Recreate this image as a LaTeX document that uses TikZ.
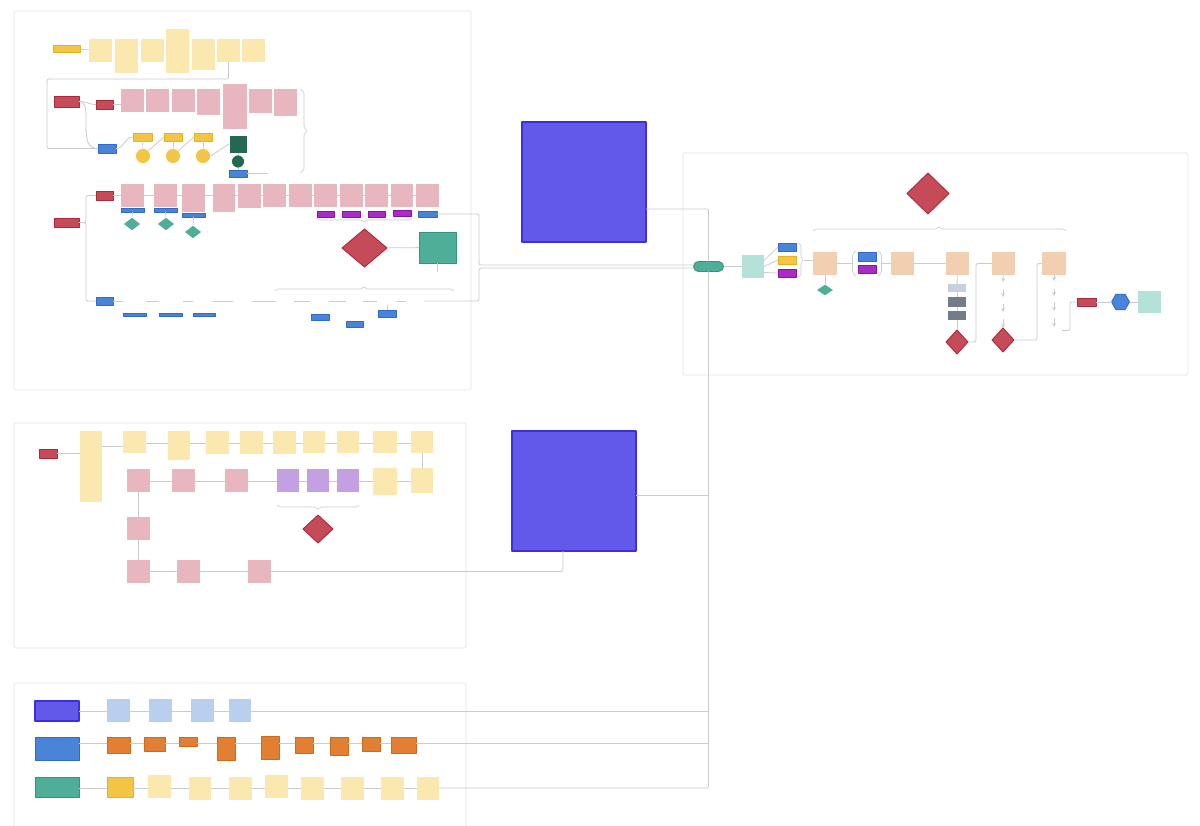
\documentclass[tikz,border=0pt]{standalone}
\usetikzlibrary{shapes.geometric,positioning}

\definecolor{lineC}{HTML}{C9CBD1}
\definecolor{frameC}{HTML}{E3E4E8}
\definecolor{stickyY}{HTML}{FBE8AE}
\definecolor{pinkN}{HTML}{E8B6BF}
\definecolor{peachN}{HTML}{F3CFB2}
\definecolor{ltealN}{HTML}{B4E1DA}
\definecolor{lavN}{HTML}{C2A0E2}
\definecolor{lblueN}{HTML}{B8CFEF}
\definecolor{redB}{HTML}{C64B59}
\definecolor{redD}{HTML}{B0263B}
\definecolor{goldB}{HTML}{F2C544}
\definecolor{goldD}{HTML}{E4B322}
\definecolor{blueB}{HTML}{4A84D6}
\definecolor{blueD}{HTML}{2E6BCC}
\definecolor{magB}{HTML}{A92CC7}
\definecolor{magD}{HTML}{8C10AE}
\definecolor{tealB}{HTML}{4FAE98}
\definecolor{tealD}{HTML}{33937C}
\definecolor{greenD}{HTML}{22694F}
\definecolor{orangeB}{HTML}{E27F32}
\definecolor{orangeD}{HTML}{CF6A1D}
\definecolor{indigoB}{HTML}{6259EA}
\definecolor{indigoD}{HTML}{3A30E2}
\definecolor{grayL}{HTML}{C8D0D9}
\definecolor{grayD}{HTML}{727D89}

% style, name, x1, y1, x2, y2 (board pixels)
\newcommand{\cardbox}[6]{\node[#1, minimum width={(#5-#3)*1pt}, minimum height={(#6-#4)*1pt}] (#2) at ({(#3+#5)/2},{(#4+#6)/2}) {};}

\begin{document}
\begin{tikzpicture}[x=1pt, y=-1pt, line join=round]
    \tikzstyle{frame}=[draw=frameC, line width=0.7pt, rounded corners=1.5pt]
    \tikzstyle{conn}=[draw=lineC, line width=0.8pt, rounded corners=2pt]
    \tikzstyle{flow}=[conn, ->, >=stealth]
    \tikzstyle{brace}=[draw=lineC, line width=0.6pt, rounded corners=1.5pt]
    \tikzstyle{card}=[rectangle, inner sep=0pt, outer sep=0pt, line width=0.6pt]
    \tikzstyle{sticky}=[card, fill=stickyY]
    \tikzstyle{pinknote}=[card, fill=pinkN]
    \tikzstyle{peachnote}=[card, fill=peachN]
    \tikzstyle{tealnote}=[card, fill=ltealN]
    \tikzstyle{lavnote}=[card, fill=lavN]
    \tikzstyle{bluenote}=[card, fill=lblueN]
    \tikzstyle{redbox}=[card, fill=redB, draw=redD, line width=0.9pt]
    \tikzstyle{goldbox}=[card, fill=goldB, draw=goldD, line width=0.9pt]
    \tikzstyle{bluebox}=[card, fill=blueB, draw=blueD, line width=0.9pt]
    \tikzstyle{magbox}=[card, fill=magB, draw=magD, line width=0.9pt]
    \tikzstyle{tealbox}=[card, fill=tealB, draw=tealD, line width=0.9pt]
    \tikzstyle{greenbox}=[card, fill=greenD, draw=white, line width=0.6pt]
    \tikzstyle{orangebox}=[card, fill=orangeB, draw=orangeD, line width=0.9pt]
    \tikzstyle{indigobox}=[card, fill=indigoB, draw=indigoD, line width=1.2pt]
    \tikzstyle{ghost}=[card]
    \tikzstyle{dia}=[diamond, inner sep=0pt, outer sep=0pt, line width=0.9pt]
    \tikzstyle{reddia}=[dia, fill=redB, draw=redD]
    \tikzstyle{tealdia}=[dia, fill=tealB, draw=white]
    \tikzstyle{disc}=[circle, inner sep=0pt, outer sep=0pt, line width=0.6pt]

    \useasboundingbox (0,0) rectangle (1200,826);
    \fill[white] (0,0) rectangle (1200,826);

    % frames
    \draw[frame] (14,11) rectangle (471,390);
    \draw[frame] (14,423) rectangle (466,648);
    \draw[frame] (683,153) rectangle (1188,375);
    \draw[frame] (14,683) rectangle (466,840);

    % ---- frame 1, onboarding row
    \cardbox{goldbox}{onb}{53}{45}{80}{52}
    \cardbox{sticky}{a1}{89}{39}{112}{62}
    \cardbox{sticky}{a2}{115}{39}{138}{73}
    \cardbox{sticky}{a3}{141}{39}{164}{62}
    \cardbox{sticky}{a4}{166}{29}{189}{73}
    \cardbox{sticky}{a5}{192}{39}{215}{70}
    \cardbox{sticky}{a6}{217}{39}{240}{62}
    \cardbox{sticky}{a7}{242}{39}{265}{62}
    \coordinate (loopA) at (47,79);

    % ---- frame 1, personal row
    \cardbox{redbox}{pers}{54}{96}{79}{107}
    \cardbox{redbox}{noA}{96}{100}{113}{109}
    \cardbox{bluebox}{subA}{98}{144}{116}{153}
    \cardbox{pinknote}{b1}{121}{89}{144}{112}
    \cardbox{pinknote}{b2}{146}{89}{169}{112}
    \cardbox{pinknote}{b3}{172}{89}{195}{112}
    \cardbox{pinknote}{b4}{197}{89}{220}{115}
    \cardbox{pinknote}{b5}{223}{84}{247}{129}
    \cardbox{pinknote}{b6}{249}{89}{272}{113}
    \cardbox{pinknote}{b7}{274}{89}{297}{116}
    \cardbox{goldbox}{y1}{133}{133}{152}{141}
    \cardbox{goldbox}{y2}{164}{133}{182}{141}
    \cardbox{goldbox}{y3}{194}{133}{212}{141}
    \cardbox{disc, fill=goldB, draw=white}{c1}{135.5}{148.5}{150.5}{163.5}
    \cardbox{disc, fill=goldB, draw=white}{c2}{165.5}{148.5}{180.5}{163.5}
    \cardbox{disc, fill=goldB, draw=white}{c3}{195.5}{148.5}{210.5}{163.5}
    \cardbox{greenbox}{gbox}{229}{135}{247}{153}
    \cardbox{disc, fill=greenD, draw=white}{gcirc}{231.5}{155}{244.5}{168}
    \cardbox{bluebox}{bsub}{229}{170}{247}{177}
    \coordinate (subEnd) at (268,173.5);

    \draw[conn] (onb) -- (a1);
    \draw[conn] (a6.south) |- (loopA) |- (subA.west);
    \draw[conn] (pers.east) .. controls (88,101.5) and (88,104.5) .. (noA.west);
    \draw[conn] (pers.east) .. controls (86,102) and (86,110) .. (86,122) .. controls (86,142) and (88,148.5) .. (subA.west);
    \draw[conn] (noA.east) -- (noA.east -| b1.west);
    \draw[conn] (subA.east) .. controls (125,148.5) and (124,137) .. (y1.west);
    \foreach \a/\b in {y1/c1, y2/c2, y3/c3, gbox/gcirc, gcirc/bsub}
        \draw[conn] (\a) -- (\b);
    \draw[conn] (c1.north east) -- (y2.west);
    \draw[conn] (c2.north east) -- (y3.west);
    \draw[conn] (c3.east) -- (gbox.west);
    \draw[conn] (bsub.east) -- (subEnd);
    \draw[brace] (300,89) -- (304,92) -- (304,128) -- (308,131) -- (304,134) -- (304,170) -- (300,173);

    % ---- frame 1, PSTN row
    \cardbox{redbox}{pstn}{54}{218}{79}{227}
    \cardbox{redbox}{noB}{96}{191}{113}{200}
    \cardbox{bluebox}{subB}{96}{297}{113}{305}
    \cardbox{pinknote}{p1}{121}{184}{144}{207}
    \cardbox{pinknote}{p2}{154}{184}{177}{207}
    \cardbox{pinknote}{p3}{182}{184}{205}{212}
    \cardbox{pinknote}{p4}{213}{184}{235}{212}
    \cardbox{pinknote}{p5}{238}{184}{261}{208}
    \cardbox{pinknote}{p6}{263}{184}{286}{207}
    \cardbox{pinknote}{p7}{289}{184}{312}{207}
    \cardbox{pinknote}{p8}{314}{184}{337}{207}
    \cardbox{pinknote}{p9}{340}{184}{363}{207}
    \cardbox{pinknote}{p10}{365}{184}{388}{207}
    \cardbox{pinknote}{p11}{391}{184}{413}{207}
    \cardbox{pinknote}{p12}{416}{184}{439}{207}
    \cardbox{bluebox}{lb1}{121}{208}{144}{212}
    \cardbox{bluebox}{lb2}{154}{208}{177}{212}
    \cardbox{bluebox}{lb3}{182}{213}{205}{217}
    \cardbox{magbox}{mg1}{317}{211}{334}{217}
    \cardbox{magbox}{mg2}{342}{211}{360}{217}
    \cardbox{magbox}{mg3}{368}{211}{385}{217}
    \cardbox{magbox}{mg4}{393}{210}{411}{216}
    \cardbox{bluebox}{lb12}{418}{211}{437}{217}
    \cardbox{tealdia}{td1}{123}{217}{141}{231}
    \cardbox{tealdia}{td2}{157}{217}{175}{231}
    \cardbox{tealdia}{td3}{184}{225}{202}{239}
    \cardbox{reddia}{bigR}{342}{229}{387}{267}
    \cardbox{tealbox}{tsq}{419}{232}{456}{263}
    \coordinate (tsqEnd) at (437.5,272);
    \coordinate (bendC) at (479,240);
    \coordinate (bendD) at (479,285);

    % text items of the lower PSTN line
    \cardbox{ghost}{r1}{123}{297}{146}{305}
    \cardbox{ghost}{r2}{159}{297}{183}{305}
    \cardbox{ghost}{r3}{193}{297}{213}{305}
    \cardbox{ghost}{r4}{233}{297}{252}{305}
    \cardbox{ghost}{r5}{276}{297}{294}{305}
    \cardbox{ghost}{r6}{310}{297}{329}{305}
    \cardbox{ghost}{r7}{346}{297}{363}{305}
    \cardbox{ghost}{r8}{377}{297}{397}{305}
    \cardbox{ghost}{r9}{406}{297}{424}{305}
    \cardbox{bluebox}{bl1}{123}{313}{146}{316}
    \cardbox{bluebox}{bl2}{159}{313}{182}{316}
    \cardbox{bluebox}{bl3}{193}{313}{215}{316}
    \cardbox{bluebox}{bl4}{311}{314}{329}{320}
    \cardbox{bluebox}{bl5}{346}{321}{363}{327}
    \cardbox{bluebox}{bl6}{378}{310}{396}{317}

    \draw[conn] (pstn.east) -- ++(7,0) |- (noB.west);
    \draw[conn] (pstn.east) -- ++(7,0) |- (subB.west);
    \draw[conn] (noB.east) -- (noB.east -| p1.west);
    \foreach \a/\b in {p1/p2, p2/p3, p3/p4, p4/p5, p5/p6, p6/p7, p7/p8, p8/p9, p9/p10, p10/p11, p11/p12}
        \draw[conn] (\a.east |- 0,195) -- (\b.west |- 0,195);
    \foreach \a/\b in {lb1/td1, lb2/td2, lb3/td3, bigR/tsq, r8/bl6}
        \draw[conn] (\a) -- (\b);
    \draw[conn] (tsq.south) -- (tsqEnd);
    \foreach \a/\b in {subB/r1, r1/r2, r2/r3, r3/r4, r4/r5, r5/r6, r6/r7, r7/r8, r8/r9}
        \draw[conn] (\a) -- (\b);
    \draw[brace] (316,218) -- (318,220) -- (362,220) -- (364,223) -- (366,220) -- (410,220) -- (412,218);
    \draw[brace] (275,291) -- (277,289) -- (362,289) -- (364,286) -- (366,289) -- (452,289) -- (454,291);

    % ---- big squares
    \cardbox{indigobox}{sq1}{522}{122}{646}{242}
    \cardbox{indigobox}{sq2}{512}{431}{636}{551}

    % ---- frame 2
    \cardbox{redbox}{rec}{39}{449}{57}{458}
    \cardbox{sticky}{d0}{80}{431}{102}{502}
    \cardbox{sticky}{d1}{123}{431}{146}{453}
    \cardbox{sticky}{d2}{168}{431}{190}{460}
    \cardbox{sticky}{d3}{206}{431}{229}{454}
    \cardbox{sticky}{d4}{240}{431}{263}{454}
    \cardbox{sticky}{d5}{273}{431}{296}{454}
    \cardbox{sticky}{d6}{303}{431}{325}{453}
    \cardbox{sticky}{d7}{337}{431}{359}{453}
    \cardbox{sticky}{d8}{373}{431}{397}{453}
    \cardbox{sticky}{d9}{411}{431}{433}{453}
    \cardbox{sticky}{e1}{411}{468}{433}{493}
    \cardbox{sticky}{e2}{373}{468}{397}{495}
    \cardbox{lavnote}{v3}{337}{469}{359}{492}
    \cardbox{lavnote}{v2}{307}{469}{329}{492}
    \cardbox{lavnote}{v1}{277}{469}{299}{492}
    \cardbox{pinknote}{f3}{225}{469}{248}{492}
    \cardbox{pinknote}{f2}{172}{469}{195}{492}
    \cardbox{pinknote}{f1}{127}{469}{150}{492}
    \cardbox{pinknote}{g1}{127}{517}{150}{540}
    \cardbox{pinknote}{h1}{127}{560}{150}{583}
    \cardbox{pinknote}{h2}{177}{560}{200}{583}
    \cardbox{pinknote}{h3}{248}{560}{271}{583}
    \cardbox{reddia}{rdia}{303}{515}{333}{543}

    \draw[conn] (rec.east) -- (rec.east -| d0.west);
    \draw[conn] (d0.east |- 0,446) -- (d1.west |- 0,446);
    \foreach \a/\b in {d1/d2, d2/d3, d3/d4, d4/d5, d5/d6, d6/d7, d7/d8, d8/d9}
        \draw[conn] (\a.east |- 0,443) -- (\b.west |- 0,443);
    \draw[conn] (d9) -- (e1);
    \foreach \a/\b in {e1/e2, e2/v3, v3/v2, v2/v1, v1/f3, f3/f2, f2/f1}
        \draw[conn] (\a.west |- 0,481) -- (\b.east |- 0,481);
    \foreach \a/\b in {f1/g1, g1/h1, h1/h2, h2/h3}
        \draw[conn] (\a) -- (\b);
    \draw[conn] (h3.east) -| ([xshift=-11pt]sq2.south);
    \draw[brace] (277,505) -- (279,507) -- (316,507) -- (318,510) -- (320,507) -- (357,507) -- (359,505);

    % ---- frame 4
    \cardbox{indigobox}{k0}{35}{701}{79}{721}
    \cardbox{bluenote}{l1}{107}{699}{130}{722}
    \cardbox{bluenote}{l2}{149}{699}{172}{722}
    \cardbox{bluenote}{l3}{191}{699}{214}{722}
    \cardbox{bluenote}{l4}{229}{699}{251}{722}
    \cardbox{bluebox}{m0}{35}{737}{79}{760}
    \cardbox{orangebox}{o1}{107}{737}{130}{753}
    \cardbox{orangebox}{o2}{144}{737}{165}{751}
    \cardbox{orangebox}{o3}{179}{737}{197}{746}
    \cardbox{orangebox}{o4}{217}{737}{235}{760}
    \cardbox{orangebox}{o5}{261}{736}{279}{759}
    \cardbox{orangebox}{o6}{295}{737}{313}{753}
    \cardbox{orangebox}{o7}{330}{737}{348}{755}
    \cardbox{orangebox}{o8}{362}{737}{380}{751}
    \cardbox{orangebox}{o9}{391}{737}{416}{753}
    \cardbox{tealbox}{n0}{35}{777}{79}{797}
    \cardbox{goldbox}{q0}{107}{777}{133}{797}
    \cardbox{sticky}{q1}{148}{775}{171}{798}
    \cardbox{sticky}{q2}{189}{777}{211}{800}
    \cardbox{sticky}{q3}{229}{777}{252}{800}
    \cardbox{sticky}{q4}{265}{775}{288}{798}
    \cardbox{sticky}{q5}{301}{777}{324}{800}
    \cardbox{sticky}{q6}{341}{777}{364}{800}
    \cardbox{sticky}{q7}{381}{777}{404}{800}
    \cardbox{sticky}{q8}{417}{777}{439}{800}

    \foreach \a/\b in {k0/l1, l1/l2, l2/l3, l3/l4}
        \draw[conn] (\a.east |- 0,711) -- (\b.west |- 0,711);
    \foreach \a/\b in {m0/o1, o1/o2, o2/o3, o3/o4, o4/o5, o5/o6, o6/o7, o7/o8, o8/o9}
        \draw[conn] (\a.east |- 0,743) -- (\b.west |- 0,743);
    \foreach \a/\b in {n0/q0, q0/q1, q1/q2, q2/q3, q3/q4, q4/q5, q5/q6, q6/q7, q7/q8}
        \draw[conn] (\a.east |- 0,788) -- (\b.west |- 0,788);

    % ---- frame 3
    \node[tealbox, rounded corners=5pt, minimum width=30pt, minimum height=10pt] (pill) at (708.5,266.5) {};
    \cardbox{tealnote}{n1}{742}{255}{764}{278}
    \cardbox{bluebox}{t-blue}{778}{243}{796}{251}
    \cardbox{goldbox}{t-gold}{778}{256}{796}{264}
    \cardbox{magbox}{t-mag}{778}{269}{796}{277}
    \coordinate (brA) at (804,260);
    \cardbox{peachnote}{s1}{813}{252}{837}{275}
    \cardbox{tealdia}{td4}{816}{284}{834}{296}
    \cardbox{bluebox}{bb1}{858}{252}{876}{261}
    \cardbox{magbox}{bb2}{858}{265}{876}{273}
    \coordinate (brL) at (852,263.5);
    \coordinate (brR) at (881,263.5);
    \cardbox{peachnote}{s2}{891}{252}{914}{275}
    \cardbox{peachnote}{s3}{946}{252}{969}{275}
    \cardbox{card, fill=grayL}{t1}{948}{284}{966}{292}
    \cardbox{card, fill=grayD}{t2}{948}{297}{966}{307}
    \cardbox{card, fill=grayD}{t3}{948}{311}{966}{320}
    \cardbox{reddia}{dd1}{946}{330}{968}{354}
    \coordinate (bendF) at (976,300);
    \cardbox{peachnote}{s4}{992}{252}{1015}{275}
    \cardbox{ghost}{w1}{993}{282}{1013}{290}
    \cardbox{ghost}{w2}{993}{297}{1013}{304}
    \cardbox{ghost}{w3}{993}{312}{1013}{319}
    \cardbox{reddia}{dd2}{992}{328}{1014}{352}
    \coordinate (bendG) at (1037,300);
    \cardbox{peachnote}{s5}{1042}{252}{1066}{275}
    \cardbox{ghost}{z1}{1043}{281}{1065}{289}
    \cardbox{ghost}{z2}{1045}{296}{1063}{302}
    \cardbox{ghost}{z3}{1041}{311}{1067}{318}
    \cardbox{ghost}{z4}{1046}{327}{1062}{334}
    \coordinate (bendH) at (1070,315);
    \cardbox{redbox}{u1}{1077}{298}{1096}{306}
    \node[regular polygon, regular polygon sides=6, minimum size=18pt, inner sep=0pt, outer sep=0pt,
        fill=blueB, draw=blueD, line width=0.9pt] (hex) at (1120.5,302) {};
    \cardbox{tealnote}{n2}{1138}{291}{1161}{313}
    \cardbox{reddia}{topR}{907}{173}{949}{214}

    \draw[conn] (pill.east) -- (pill.east -| n1.west);
    \draw[conn] ([yshift=6pt]n1.east) -- (t-blue.west);
    \draw[conn] (n1.east) -- (t-gold.west);
    \draw[conn] ([yshift=-6pt]n1.east) -- (t-mag.west);
    \draw[brace] (798,243) -- (801,245) -- (801,258) -- (804,260) -- (801,262) -- (801,275) -- (798,277);
    \draw[conn] (brA) -- (brA -| s1.west);
    \draw[conn] (s1) -- (td4);
    \draw[conn] (s1.east |- brL) -- (brL);
    \draw[brace] (856,251) -- (852.5,254) -- (852.5,273) -- (856,276);
    \draw[brace] (878,251) -- (881.5,254) -- (881.5,273) -- (878,276);
    \draw[conn] (brR) -- (brR -| s2.west);
    \draw[conn] (s2) -- (s3);
    \foreach \a/\b in {s3/t1, t1/t2, t2/t3, t3/dd1}
        \draw[conn] (\a) -- (\b);
    \draw[conn] (dd1.east) -| (bendF) |- (s4.west);
    \foreach \a/\b in {s4/w1, w1/w2, w2/w3, w3/dd2}
        \draw[flow] (\a) -- (\b);
    \draw[conn] (dd2.east) -| (bendG) |- (s5.west);
    \foreach \a/\b in {s5/z1, z1/z2, z2/z3, z3/z4}
        \draw[flow] (\a) -- (\b);
    \draw[conn] (z4.east) -| (bendH) |- (u1.west);
    \draw[conn] (u1) -- (hex);
    \draw[conn] (hex) -- (n2);
    \draw[brace] (813,231) -- (815,229) -- (937,229) -- (939,226) -- (941,229) -- (1064,229) -- (1066,231);

    % ---- trunk into the pill
    \draw[conn] (lb12.east) -| (bendC) |- ([yshift=1.5pt]pill.west);
    \draw[conn] (r9.east) -| (bendD) |- ([yshift=-1.5pt]pill.west);
    \draw[conn] ([yshift=-27pt]sq1.east) -| (pill.north);
    \draw[conn] (pill.south) |- (q8.east |- 0,788);
    \draw[conn] (l4.east |- 0,711) -- (pill.south |- 0,711);
    \draw[conn] (o9.east |- 0,743) -- (pill.south |- 0,743);
    \draw[conn] ([yshift=-4pt]sq2.east) -- ([yshift=-4pt]sq2.east -| pill.south);

\end{tikzpicture}
\end{document}
